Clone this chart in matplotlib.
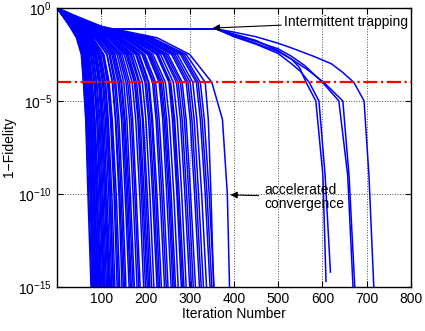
import numpy as np
import matplotlib
matplotlib.use("Agg")
from matplotlib import pyplot as plt

plt.rcParams['font.family'] = ['Liberation Sans', 'DejaVu Sans']
plt.rcParams['mathtext.fontset'] = 'custom'
plt.rcParams['mathtext.rm'] = 'Liberation Sans'
plt.rcParams['mathtext.it'] = 'Liberation Sans:italic'

# log10(1-F) levels shared by the main bundle
LEVELS = [0, -0.5, -1, -1.6, -2.5, -4, -6, -10, -15]

# iteration at which each run reaches the levels above (level 0 is at iteration 0)
MAIN_RUNS = [
    [15, 30, 45, 56, 60, 65, 70, 77],
    [15, 29, 44, 55, 60, 66, 72, 79],
    [16, 31, 46, 58, 63, 68, 75, 81],
    [16, 33, 48, 57, 63, 69, 76, 83],
    [16, 32, 49, 62, 67, 72, 78, 84],
    [16, 31, 47, 59, 64, 70, 77, 85],
    [17, 34, 50, 60, 66, 72, 79, 86],
    [16, 33, 50, 64, 70, 75, 82, 88],
    [17, 35, 52, 61, 68, 75, 82, 89],
    [17, 34, 51, 66, 72, 78, 84, 91],
    [17, 34, 53, 65, 71, 77, 84, 92],
    [18, 36, 53, 67, 73, 79, 86, 93],
    [17, 35, 55, 71, 77, 82, 89, 95],
    [19, 37, 52, 68, 75, 82, 89, 97],
    [18, 36, 55, 72, 79, 85, 91, 98],
    [18, 35, 54, 70, 76, 83, 90, 99],
    [19, 38, 56, 73, 80, 86, 94, 101],
    [18, 36, 59, 76, 84, 90, 97, 104],
    [20, 39, 58, 77, 84, 91, 98, 106],
    [19, 37, 60, 78, 86, 92, 99, 107],
    [19, 38, 62, 81, 89, 95, 102, 109],
    [21, 40, 64, 82, 90, 97, 104, 112],
    [20, 39, 65, 85, 94, 100, 107, 115],
    [21, 41, 68, 88, 97, 103, 110, 117],
    [20, 40, 66, 86, 95, 102, 110, 119],
    [20, 40, 68, 90, 99, 106, 113, 121],
    [22, 42, 72, 93, 103, 109, 117, 124],
    [22, 43, 74, 97, 108, 114, 121, 127],
    [21, 41, 71, 95, 105, 112, 120, 128],
    [23, 44, 76, 99, 110, 116, 124, 131],
    [22, 43, 78, 103, 114, 121, 129, 136],
    [23, 45, 80, 104, 116, 123, 131, 139],
    [24, 45, 81, 106, 118, 125, 134, 142],
    [23, 46, 85, 113, 125, 132, 140, 147],
    [25, 48, 88, 113, 126, 133, 142, 150],
    [25, 49, 92, 118, 130, 137, 145, 153],
    [24, 48, 89, 120, 133, 140, 148, 156],
    [26, 50, 95, 124, 138, 146, 154, 163],
    [26, 52, 98, 127, 141, 149, 157, 166],
    [25, 51, 97, 130, 145, 152, 160, 168],
    [27, 53, 100, 131, 146, 154, 163, 172],
    [26, 52, 101, 136, 151, 158, 166, 175],
    [27, 54, 104, 140, 156, 164, 172, 181],
    [28, 55, 107, 143, 160, 168, 176, 185],
    [28, 56, 109, 147, 164, 171, 179, 188],
    [29, 57, 114, 152, 170, 178, 187, 196],
    [28, 58, 116, 156, 175, 183, 191, 200],
    [30, 60, 119, 159, 177, 185, 194, 204],
    [29, 59, 117, 161, 180, 188, 197, 207],
    [30, 61, 122, 165, 185, 193, 201, 210],
    [31, 63, 126, 168, 187, 195, 204, 214],
    [31, 62, 127, 172, 193, 201, 210, 219],
    [32, 64, 131, 178, 199, 207, 216, 226],
    [32, 65, 133, 180, 202, 210, 219, 229],
    [33, 66, 136, 184, 206, 214, 223, 232],
    [34, 67, 138, 186, 208, 216, 226, 236],
    [34, 68, 141, 192, 216, 224, 233, 243],
    [34, 69, 143, 195, 219, 227, 237, 247],
    [35, 70, 146, 198, 223, 231, 241, 251],
    [36, 72, 151, 205, 231, 239, 248, 258],
    [37, 73, 154, 207, 233, 242, 252, 262],
    [36, 73, 156, 210, 236, 245, 255, 265],
    [38, 74, 157, 213, 240, 248, 258, 268],
    [38, 75, 160, 217, 245, 254, 264, 274],
    [39, 77, 164, 225, 253, 261, 271, 281],
    [39, 78, 166, 229, 255, 264, 273, 284],
    [40, 79, 168, 228, 257, 266, 276, 287],
    [40, 79, 171, 234, 263, 272, 282, 292],
    [41, 81, 176, 240, 270, 279, 289, 300],
    [41, 82, 178, 243, 274, 283, 293, 304],
    [42, 83, 181, 247, 279, 288, 298, 308],
    [43, 85, 184, 251, 283, 292, 302, 313],
    [43, 86, 189, 259, 292, 301, 311, 322],
    [43, 87, 192, 263, 296, 305, 315, 326],
    [44, 88, 195, 267, 301, 310, 320, 331],
    [44, 90, 199, 272, 307, 316, 327, 338],
    [45, 92, 205, 279, 315, 324, 335, 346],
    [45, 93, 210, 283, 319, 328, 339, 350],
    [46, 96, 215, 292, 335, 342, 348, 354],
    [45, 95, 214, 287, 324, 333, 344, 355],
    [50, 102, 226, 300, 350, 374, 385, 390],
]

# runs that stall on the plateau ("intermittent trapping")
TRAP_X = [0, 20, 45, 75, 100, 118, 360]
TRAP_Y = [0, -0.3, -0.55, -0.8, -1.0, -1.13, -1.13]
TRAPPED_TAILS = [
    ([400, 450, 500, 530, 548, 563, 585, 601, 608],
     [-1.4, -1.75, -2.3, -2.75, -3.2, -4, -5, -9, -14.7]),
    ([400, 450, 500, 530, 550, 570, 592, 606, 618],
     [-1.55, -1.95, -2.45, -3.0, -3.4, -4, -5, -9, -14.2]),
    ([400, 450, 500, 530, 560, 600, 637, 657, 669],
     [-1.45, -1.8, -2.2, -2.6, -3.1, -4, -5, -9, -15]),
    ([400, 450, 500, 530, 565, 603, 646, 660, 673],
     [-1.5, -1.9, -2.35, -2.75, -3.3, -4, -5, -9, -15]),
    ([400, 450, 500, 530, 580, 620, 645, 671, 694, 705, 716],
     [-1.3, -1.55, -1.9, -2.15, -2.6, -3.0, -3.45, -4, -5, -9, -15]),
]

THRESHOLD = 1e-4

fig = plt.figure(figsize=(4.25, 3.31), dpi=100)
ax = fig.add_axes([0.134, 0.133, 0.833, 0.843])

for run in MAIN_RUNS:
    x = [0] + run
    ax.semilogy(x, 10.0 ** np.array(LEVELS), color='b', lw=1.1)

for tx, ty in TRAPPED_TAILS:
    x = TRAP_X + tx
    y = TRAP_Y + ty
    ax.semilogy(x, 10.0 ** np.array(y), color='b', lw=1.1)

ax.axhline(THRESHOLD, color='r', ls='-.', lw=1.6)

ax.set_xlim(0, 800)
ax.set_ylim(1e-15, 1)
ax.set_xticks([100, 200, 300, 400, 500, 600, 700, 800])
ax.set_yticks([1e-15, 1e-10, 1e-5, 1])
ax.yaxis.set_minor_locator(matplotlib.ticker.NullLocator())
ax.grid(True, ls=':', color='0.3', lw=0.7)
ax.tick_params(direction='in', top=True, right=True, labelsize=10, length=4)
for s in ax.spines.values():
    s.set_linewidth(1.0)

ax.set_xlabel('Iteration Number', fontsize=10, labelpad=1)
ax.set_ylabel('1\u2212Fidelity', fontsize=10, labelpad=2)

ax.annotate('Intermittent trapping', xy=(352, 10 ** -1.08), xytext=(513, 10 ** -0.78),
            fontsize=10, ha='left', va='center',
            arrowprops=dict(arrowstyle='-|>', color='k', lw=0.8, mutation_scale=10,
                            shrinkA=0, shrinkB=0))
ax.annotate('accelerated\nconvergence', xy=(392, 10 ** -10.05), xytext=(468, 10 ** -10.15),
            fontsize=10, ha='left', va='center', linespacing=1.0,
            arrowprops=dict(arrowstyle='-|>', color='k', lw=0.8, mutation_scale=10,
                            shrinkA=2, shrinkB=0))

fig.savefig('out.png', dpi=100)
